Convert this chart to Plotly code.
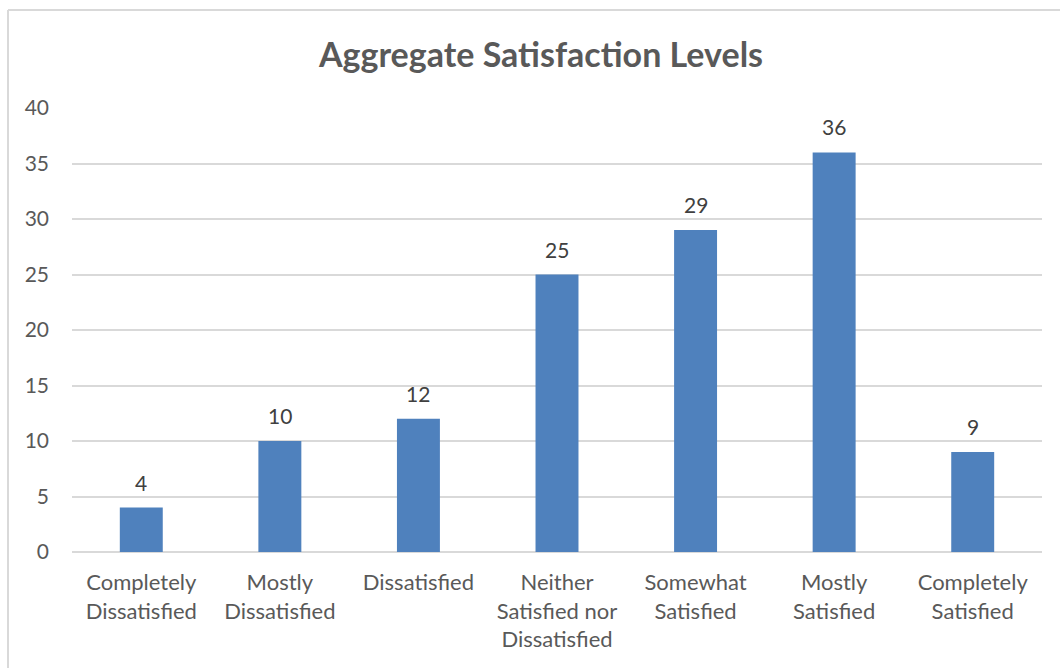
import plotly.graph_objects as go

categories = ["Completely<br>Dissatisfied", "Mostly<br>Dissatisfied", "Dissatisfied",
              "Neither<br>Satisfied nor<br>Dissatisfied", "Somewhat<br>Satisfied",
              "Mostly<br>Satisfied", "Completely<br>Satisfied"]
values = [4, 10, 12, 25, 29, 36, 9]
y_ticks = [0, 5, 10, 15, 20, 25, 30, 35, 40]

FONT = "Lato"
fig = go.Figure(go.Bar(
    x=categories, y=values,
    marker=dict(color="#4F81BD", line=dict(width=0)),
    cliponaxis=False,
))

for c, v in zip(categories, values):
    fig.add_annotation(x=c, y=v, text=str(v), showarrow=False, yanchor="bottom",
                       yshift=11, font=dict(family=FONT, size=21, color="#404040"))

fig.update_layout(
    width=1060, height=668,
    margin=dict(l=72, r=18, t=108, b=116),
    paper_bgcolor="white", plot_bgcolor="white",
    bargap=0.69,
    showlegend=False,
    title=dict(text="<b>Aggregate Satisfaction Levels</b>", x=541 / 1060, xanchor="center",
               y=1 - 55 / 668, yanchor="middle",
               font=dict(family=FONT, size=34, color="#595959")),
    font=dict(family=FONT, color="#595959"),
    xaxis=dict(showgrid=False, showline=False, ticks="", tickfont=dict(size=22, color="#595959"),
               tickangle=0, ticklabelstandoff=15),
    yaxis=dict(range=[0, 40], tickvals=y_ticks, showgrid=True, gridcolor="#D9D9D9", gridwidth=1.5,
               zeroline=True, zerolinecolor="#D9D9D9", zerolinewidth=1.5,
               tickfont=dict(size=21, color="#595959"), ticks="", ticklabelstandoff=22),
    shapes=[
        dict(type="line", xref="paper", yref="paper", x0=-64/970, x1=1.1, y0=1 + 98/444, y1=1 + 98/444,
             line=dict(color="#D9D9D9", width=2)),
        dict(type="line", xref="paper", yref="paper", x0=-64/970, x1=-64/970, y0=1 + 98/444, y1=-0.3,
             line=dict(color="#D9D9D9", width=2)),
    ],
)

fig.write_html("out.html")
